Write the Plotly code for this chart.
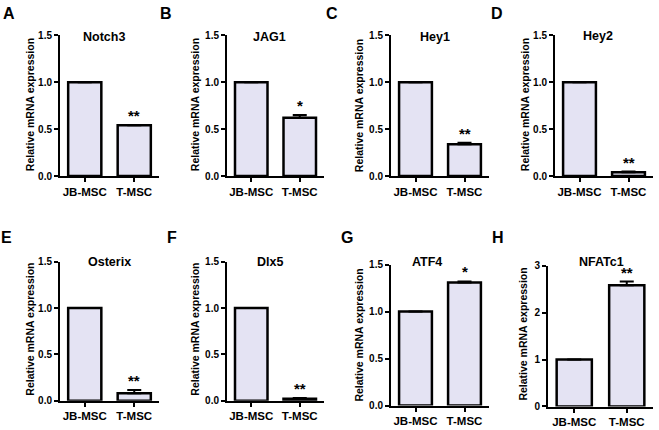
import plotly.graph_objects as go

W, H = 659, 430

groups = ["JB-MSC", "T-MSC"]
letters = ["A", "B", "C", "D", "E", "F", "G", "H"]
genes = ["Notch3", "JAG1", "Hey1", "Hey2", "Osterix", "Dlx5", "ATF4", "NFATc1"]
jb_values = [1.0, 1.0, 1.0, 1.0, 1.0, 1.0, 1.0, 1.0]
t_values = [0.54, 0.62, 0.34, 0.04, 0.08, 0.02, 1.31, 2.58]
t_errors = [0.005, 0.03, 0.015, 0.008, 0.035, 0.008, 0.01, 0.08]
stars = ["**", "*", "**", "**", "**", "**", "*", "**"]
y_max = [1.5, 1.5, 1.5, 1.5, 1.5, 1.5, 1.5, 3]
y_ticks = [[0, 0.5, 1.0, 1.5]] * 7 + [[0, 1, 2, 3]]
y_tick_fmt = [".1f"] * 7 + [".0f"]

# layout (pixel geometry)
x_dom = [(60, 159), (227, 324), (391, 489), (555, 653),
         (60, 159), (227, 324), (391, 489), (548, 653)]
y_dom = [(30, 175), (30, 175), (30, 175), (30, 175),
         (263, 406), (263, 406), (266, 411), (267, 412)]
ylab_x = [30, 195, 359, 525, 30, 195, 359, 523]
ylab_y = [102, 102, 102, 102, 333, 333, 338, 338]
title_pos = [(104, 32), (269, 32), (435, 32), (598, 31),
             (109, 263), (270, 263), (427, 263), (601, 263)]
letter_pos = [(9, 8), (166, 8), (332, 8), (497, 8),
              (6, 238), (172, 238), (347, 238), (498, 238)]

FONT = "Liberation Sans, Arial, sans-serif"
BAR_FILL = "#e4e3f3"

def px(x):
    return x / W

def py(y):
    return 1 - y / H

fig = go.Figure()
annotations = []
for i in range(8):
    n = i + 1
    xa = "x" if n == 1 else f"x{n}"
    ya = "y" if n == 1 else f"y{n}"
    fig.add_trace(go.Bar(
        x=groups, y=[jb_values[i], t_values[i]],
        xaxis=xa, yaxis=ya, width=0.67,
        marker=dict(color=BAR_FILL, line=dict(color="black", width=2.5)),
        error_y=dict(type="data", symmetric=False,
                     array=[0, t_errors[i]], arrayminus=[0, 0],
                     color="black", thickness=2, width=7),
        showlegend=False, hoverinfo="skip",
    ))
    xd = x_dom[i]
    yd = y_dom[i]
    fig.layout[f"xaxis{'' if n == 1 else n}"] = dict(
        domain=[px(xd[0]), px(xd[1])], anchor=ya, range=[-0.5, 1.5],
        type="category", showline=True, linecolor="black", linewidth=2,
        ticks="outside", ticklen=4, tickwidth=1.5, tickcolor="black",
        showgrid=False, zeroline=False, fixedrange=True,
        tickfont=dict(family=FONT, size=11.5, color="black", weight="bold"),
    )
    fig.layout[f"yaxis{'' if n == 1 else n}"] = dict(
        domain=[py(yd[1]), py(yd[0])], anchor=xa, range=[0, y_max[i]],
        tickvals=y_ticks[i], tickformat=y_tick_fmt[i],
        showline=True, linecolor="black", linewidth=2,
        ticks="outside", ticklen=4, tickwidth=1.5, tickcolor="black",
        showgrid=False, zeroline=False, fixedrange=True,
        tickfont=dict(family=FONT, size=10, color="black", weight="bold"),
    )
    annotations.append(dict(
        xref="paper", yref="paper", x=px(ylab_x[i]), y=py(ylab_y[i]),
        text="Relative mRNA expression", textangle=-90, showarrow=False,
        xanchor="center", yanchor="middle",
        font=dict(family=FONT, size=10.5, color="black", weight="bold"),
    ))
    annotations.append(dict(
        xref="paper", yref="paper", x=px(title_pos[i][0]), y=py(title_pos[i][1]),
        text=genes[i], showarrow=False, xanchor="center", yanchor="middle",
        font=dict(family=FONT, size=12.5, color="black", weight="bold"),
    ))
    annotations.append(dict(
        xref="paper", yref="paper", x=px(letter_pos[i][0]), y=py(letter_pos[i][1]),
        text=letters[i], showarrow=False, xanchor="center", yanchor="middle",
        font=dict(family=FONT, size=16, color="black", weight="bold"),
    ))
    annotations.append(dict(
        xref=xa, yref=ya, x=groups[1], y=t_values[i] + t_errors[i],
        text=stars[i], showarrow=False, xanchor="center", yanchor="bottom",
        yshift=-1,
        font=dict(family=FONT, size=15, color="black", weight="bold"),
    ))

fig.update_layout(
    width=W, height=H, margin=dict(l=0, r=0, t=0, b=0),
    paper_bgcolor="white", plot_bgcolor="white",
    annotations=annotations, bargap=0.33,
)
fig.write_html(
    "out.html",
    config={"displayModeBar": False},
    post_script="document.body.style.margin='0';document.body.style.padding='0';"
                "document.body.style.overflow='hidden';",
)
